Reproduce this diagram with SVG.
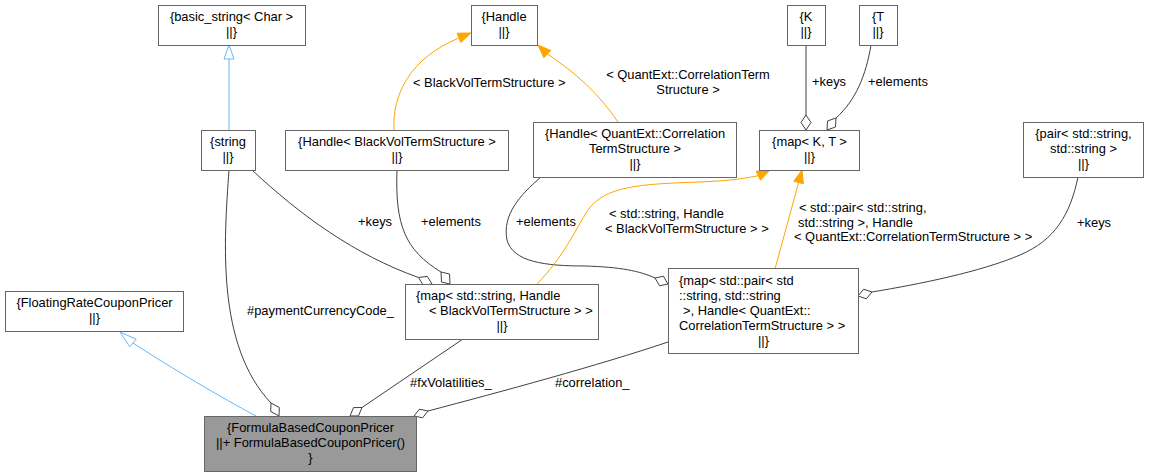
<svg xmlns="http://www.w3.org/2000/svg" width="1149" height="476" viewBox="0 0 1149 476">
<style>
text{font-family:"Liberation Sans",Arial,sans-serif;font-size:12.9px;fill:#000}
.c{text-anchor:middle}
.n rect{fill:#fff;stroke:#666;stroke-width:1}
.n rect.cur{fill:#999}
.e{fill:none;stroke:#404040;stroke-width:1}
.t{fill:none;stroke:#ffa500;stroke-width:1}
.i{fill:none;stroke:#63b8ff;stroke-width:1}
.dia{fill:#fff;stroke:#404040;stroke-width:1}
.arr{fill:#ffa500;stroke:#ffa500;stroke-width:1}
.tri{fill:#fff;stroke:#63b8ff;stroke-width:1}
</style>
<rect width="1149" height="476" fill="#fff"/>
<g id="connectors">
<path class="i" d="M229,130 L229,59"/>
<polygon class="tri" points="229,45 234,59 224,59"/>
<path class="i" d="M256,416 C222,398 168,366 133,343"/>
<polygon class="tri" points="120,332 136.2,339.2 129.8,346.8"/>
<path class="e" d="M229,170 C224,240 216,345 271,403"/>
<polygon class="dia" points="279,416 270.7,411.5 271,403 279.3,407.5"/>
<text x="247" y="315">#paymentCurrencyCode_</text>
<path class="e" d="M252,170 C300,215 355,255 418.5,277.5"/>
<polygon class="dia" points="432,284 423.2,285.1 418.5,277.5 427.3,276.4"/>
<text x="358" y="226">+keys</text>
<path class="e" d="M397,170 C395,225 405,250 441,272"/>
<polygon class="dia" points="450,284 441.5,282 441,272 449.5,274"/>
<text x="421" y="226">+elements</text>
<path class="t" d="M394,130 C392,95 410,58 459,38"/>
<polygon class="arr" points="471,33 460.8,42.5 457.1,33.2"/>
<text x="413" y="87">&lt; BlackVolTermStructure &gt;</text>
<path class="t" d="M618,122 C600,95 575,72 547.4,54.1"/>
<polygon class="arr" points="538,45 550.9,50.5 543.9,57.7"/>
<text class="c" x="688" y="79">&lt; QuantExt::CorrelationTerm</text>
<text class="c" x="688" y="94">Structure &gt;</text>
<path class="e" d="M541,177 C520,195 502,215 507,240 C513,262 545,266 585,266 C620,267 640,271 655,278"/>
<polygon class="dia" points="668,284 659.6,285.8 655,278 663.4,276.2"/>
<text x="516" y="226">+elements</text>
<path class="t" d="M537,284 C565,255 575,230 588,210 C605,186 640,184 700,182 C725,181 742,179 758.3,175.7"/>
<polygon class="arr" points="770,170 760.5,180.2 756.1,171.2"/>
<text x="609" y="218">&lt; std::string, Handle</text>
<text x="605" y="233">&lt; BlackVolTermStructure &gt; &gt;</text>
<path class="t" d="M775,269 L798.6,182.5"/>
<polygon class="arr" points="802,170 803.4,183.8 793.8,181.2"/>
<text x="799" y="212">&lt; std::pair&lt; std::string,</text>
<text x="798" y="227">std::string &gt;, Handle</text>
<text x="794" y="241">&lt; QuantExt::CorrelationTermStructure &gt; &gt;</text>
<path class="e" d="M806,45 L806,115"/>
<polygon class="dia" points="806,130 801,122.5 806,115 811,122.5"/>
<text x="812" y="86">+keys</text>
<path class="e" d="M871,45 C866,75 856,100 836,118"/>
<polygon class="dia" points="827,130 827.5,121 836,118 835.5,127"/>
<text x="868" y="86">+elements</text>
<path class="e" d="M1078,177 C1070,215 1055,240 1020,255 C980,272 920,284 872,292"/>
<polygon class="dia" points="858,296 863.7,289.2 872,292 866.3,298.8"/>
<text x="1077" y="227">+keys</text>
<path class="e" d="M463,339 L362,407.5"/>
<polygon class="dia" points="350,416 353.5,407.6 362,407.5 358.5,415.9"/>
<text x="410" y="387">#fxVolatilities_</text>
<path class="e" d="M668,342 C600,365 500,392 428,411"/>
<polygon class="dia" points="414,416 419.4,409.2 428,411 422.6,417.8"/>
<text x="555" y="387">#correlation_</text>
</g>
<g id="basic_string" class="n"><rect x="158.5" y="5.5" width="147" height="40"/><text class="c" x="231.5" y="21">{basic_string&lt; Char &gt;</text><text class="c" x="231.5" y="36">||}</text></g>
<g id="handle" class="n"><rect x="471.5" y="5.5" width="66" height="40"/><text class="c" x="504" y="21">{Handle</text><text class="c" x="504" y="36">||}</text></g>
<g id="k" class="n"><rect x="787.5" y="5.5" width="38" height="40"/><text class="c" x="806" y="21">{K</text><text class="c" x="806" y="36">||}</text></g>
<g id="t" class="n"><rect x="859.5" y="5.5" width="38" height="40"/><text class="c" x="878" y="21">{T</text><text class="c" x="878" y="36">||}</text></g>
<g id="string" class="n"><rect x="201.5" y="130.5" width="54" height="40"/><text class="c" x="228" y="146">{string</text><text class="c" x="228" y="161">||}</text></g>
<g id="handle_bv" class="n"><rect x="285.5" y="130.5" width="223" height="40"/><text class="c" x="397" y="146">{Handle&lt; BlackVolTermStructure &gt;</text><text class="c" x="397" y="161">||}</text></g>
<g id="handle_qe" class="n"><rect x="533.5" y="122.5" width="203" height="55"/><text class="c" x="635" y="138">{Handle&lt; QuantExt::Correlation</text><text class="c" x="635" y="153">TermStructure &gt;</text><text class="c" x="635" y="168">||}</text></g>
<g id="map_kt" class="n"><rect x="759.5" y="130.5" width="100" height="40"/><text class="c" x="809.5" y="146">{map&lt; K, T &gt;</text><text class="c" x="809.5" y="161">||}</text></g>
<g id="pair" class="n"><rect x="1023.5" y="122.5" width="120" height="55"/><text class="c" x="1083.5" y="138">{pair&lt; std::string,</text><text class="c" x="1083.5" y="153">std::string &gt;</text><text class="c" x="1083.5" y="168">||}</text></g>
<g id="floating" class="n"><rect x="5.5" y="291.5" width="178" height="40"/><text class="c" x="94.5" y="307">{FloatingRateCouponPricer</text><text class="c" x="94.5" y="322">||}</text></g>
<g id="map_str" class="n"><rect x="405.5" y="284.5" width="193" height="55"/><text x="416" y="300">{map&lt; std::string, Handle</text><text x="429" y="315">&lt; BlackVolTermStructure &gt; &gt;</text><text class="c" x="502" y="330">||}</text></g>
<g id="map_pair" class="n"><rect x="668.5" y="268.5" width="190" height="85"/><text x="679" y="285">{map&lt; std::pair&lt; std</text><text x="679" y="300">::string, std::string</text><text x="683" y="315">&gt;, Handle&lt; QuantExt::</text><text x="679" y="330">CorrelationTermStructure &gt; &gt;</text><text class="c" x="763.5" y="345">||}</text></g>
<g id="formula" class="n"><rect class="cur" x="204.5" y="416.5" width="212" height="55"/><text class="c" x="310.5" y="432">{FormulaBasedCouponPricer</text><text class="c" x="310.5" y="447">||+ FormulaBasedCouponPricer()</text><text class="c" x="310.5" y="462">}</text></g>
</svg>
